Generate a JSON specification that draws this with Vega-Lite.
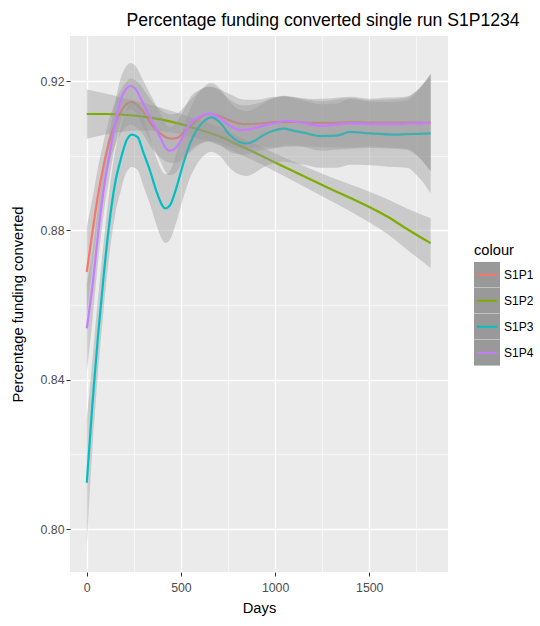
{
"$schema": "https://vega.github.io/schema/vega-lite/v6.json",
"width": 378, "height": 536,
"autosize": {"type": "none"},
"padding": {"left": 70, "top": 36, "right": 92, "bottom": 54},
"background": "white",
"title": {"text": "Percentage funding converted single run S1P1234", "font": "Liberation Sans", "fontSize": 17.6, "fontWeight": "normal", "color": "black", "anchor": "middle", "dx": 64, "dy": 20, "offset": 12, "baseline": "alphabetic"},
"config": {
  "view": {"fill": "#EBEBEB", "stroke": null},
  "font": "Liberation Sans",
  "axis": {"domain": false, "gridColor": "white", "tickSize": 4, "tickWidth": 1, "labelFont": "Liberation Sans", "labelFontSize": 12.3, "labelColor": "#4D4D4D", "labelPadding": 2, "titleFont": "Liberation Sans", "titleFontSize": 14.7, "titleColor": "black", "titleFontWeight": "normal"},
  "axisX": {"titlePadding": 7, "labelPadding": 5},
  "axisY": {"titlePadding": 15},
  "legend": {"padding": 0, "rowPadding": 0, "clipHeight": 26, "titleFont": "Liberation Sans", "titleFontSize": 14.7, "titleFontWeight": "normal", "titleColor": "black", "titlePadding": 4, "labelFont": "Liberation Sans", "labelFontSize": 12, "labelColor": "black", "labelOffset": 4, "symbolSize": 576, "symbolStrokeWidth": 2}
},
"datasets": {"d": [
{"s":"S1P1","d":0,"y":0.8689,"lo":0.8569,"hi":0.8809},
{"s":"S1P1","d":30,"y":0.8795,"lo":0.8705,"hi":0.8885},
{"s":"S1P1","d":60,"y":0.8895,"lo":0.8820,"hi":0.8970},
{"s":"S1P1","d":90,"y":0.8975,"lo":0.8910,"hi":0.9040},
{"s":"S1P1","d":120,"y":0.9040,"lo":0.8980,"hi":0.9100},
{"s":"S1P1","d":150,"y":0.9085,"lo":0.9027,"hi":0.9143},
{"s":"S1P1","d":180,"y":0.9118,"lo":0.9060,"hi":0.9176},
{"s":"S1P1","d":210,"y":0.9138,"lo":0.9078,"hi":0.9198},
{"s":"S1P1","d":235,"y":0.9145,"lo":0.9083,"hi":0.9207},
{"s":"S1P1","d":260,"y":0.9140,"lo":0.9078,"hi":0.9202},
{"s":"S1P1","d":290,"y":0.9125,"lo":0.9063,"hi":0.9187},
{"s":"S1P1","d":320,"y":0.9102,"lo":0.9040,"hi":0.9164},
{"s":"S1P1","d":350,"y":0.9080,"lo":0.9017,"hi":0.9143},
{"s":"S1P1","d":390,"y":0.9060,"lo":0.8996,"hi":0.9124},
{"s":"S1P1","d":420,"y":0.9050,"lo":0.8985,"hi":0.9115},
{"s":"S1P1","d":450,"y":0.9046,"lo":0.8981,"hi":0.9111},
{"s":"S1P1","d":480,"y":0.9048,"lo":0.8982,"hi":0.9114},
{"s":"S1P1","d":520,"y":0.9065,"lo":0.8997,"hi":0.9133},
{"s":"S1P1","d":560,"y":0.9085,"lo":0.9015,"hi":0.9155},
{"s":"S1P1","d":600,"y":0.9102,"lo":0.9030,"hi":0.9174},
{"s":"S1P1","d":650,"y":0.9112,"lo":0.9039,"hi":0.9185},
{"s":"S1P1","d":700,"y":0.9108,"lo":0.9036,"hi":0.9180},
{"s":"S1P1","d":760,"y":0.9095,"lo":0.9025,"hi":0.9165},
{"s":"S1P1","d":830,"y":0.9085,"lo":0.9019,"hi":0.9151},
{"s":"S1P1","d":900,"y":0.9086,"lo":0.9022,"hi":0.9150},
{"s":"S1P1","d":1000,"y":0.9090,"lo":0.9022,"hi":0.9158},
{"s":"S1P1","d":1100,"y":0.9091,"lo":0.9025,"hi":0.9157},
{"s":"S1P1","d":1200,"y":0.9088,"lo":0.9024,"hi":0.9152},
{"s":"S1P1","d":1300,"y":0.9088,"lo":0.9022,"hi":0.9154},
{"s":"S1P1","d":1400,"y":0.9090,"lo":0.9022,"hi":0.9158},
{"s":"S1P1","d":1500,"y":0.9089,"lo":0.9025,"hi":0.9153},
{"s":"S1P1","d":1600,"y":0.9089,"lo":0.9022,"hi":0.9156},
{"s":"S1P1","d":1700,"y":0.9089,"lo":0.9019,"hi":0.9159},
{"s":"S1P1","d":1760,"y":0.9089,"lo":0.8999,"hi":0.9179},
{"s":"S1P1","d":1826,"y":0.9089,"lo":0.8959,"hi":0.9219},
{"s":"S1P2","d":0,"y":0.9112,"lo":0.9046,"hi":0.9178},
{"s":"S1P2","d":100,"y":0.9112,"lo":0.9057,"hi":0.9167},
{"s":"S1P2","d":200,"y":0.9110,"lo":0.9065,"hi":0.9155},
{"s":"S1P2","d":300,"y":0.9105,"lo":0.9068,"hi":0.9142},
{"s":"S1P2","d":400,"y":0.9097,"lo":0.9066,"hi":0.9128},
{"s":"S1P2","d":500,"y":0.9085,"lo":0.9058,"hi":0.9112},
{"s":"S1P2","d":600,"y":0.9070,"lo":0.9045,"hi":0.9095},
{"s":"S1P2","d":700,"y":0.9053,"lo":0.9029,"hi":0.9077},
{"s":"S1P2","d":800,"y":0.9030,"lo":0.9007,"hi":0.9053},
{"s":"S1P2","d":900,"y":0.9007,"lo":0.8984,"hi":0.9030},
{"s":"S1P2","d":1000,"y":0.8982,"lo":0.8958,"hi":0.9006},
{"s":"S1P2","d":1100,"y":0.8958,"lo":0.8932,"hi":0.8984},
{"s":"S1P2","d":1200,"y":0.8934,"lo":0.8905,"hi":0.8963},
{"s":"S1P2","d":1300,"y":0.8910,"lo":0.8878,"hi":0.8942},
{"s":"S1P2","d":1400,"y":0.8887,"lo":0.8851,"hi":0.8923},
{"s":"S1P2","d":1500,"y":0.8863,"lo":0.8822,"hi":0.8904},
{"s":"S1P2","d":1600,"y":0.8836,"lo":0.8789,"hi":0.8883},
{"s":"S1P2","d":1700,"y":0.8804,"lo":0.8749,"hi":0.8859},
{"s":"S1P2","d":1826,"y":0.8766,"lo":0.8699,"hi":0.8833},
{"s":"S1P3","d":0,"y":0.8124,"lo":0.7954,"hi":0.8294},
{"s":"S1P3","d":30,"y":0.8335,"lo":0.8215,"hi":0.8455},
{"s":"S1P3","d":60,"y":0.8520,"lo":0.8420,"hi":0.8620},
{"s":"S1P3","d":90,"y":0.8680,"lo":0.8590,"hi":0.8770},
{"s":"S1P3","d":120,"y":0.8820,"lo":0.8735,"hi":0.8905},
{"s":"S1P3","d":150,"y":0.8925,"lo":0.8840,"hi":0.9010},
{"s":"S1P3","d":180,"y":0.8990,"lo":0.8905,"hi":0.9075},
{"s":"S1P3","d":210,"y":0.9040,"lo":0.8955,"hi":0.9125},
{"s":"S1P3","d":239,"y":0.9057,"lo":0.8970,"hi":0.9144},
{"s":"S1P3","d":270,"y":0.9050,"lo":0.8962,"hi":0.9138},
{"s":"S1P3","d":300,"y":0.9010,"lo":0.8920,"hi":0.9100},
{"s":"S1P3","d":336,"y":0.8960,"lo":0.8870,"hi":0.9050},
{"s":"S1P3","d":370,"y":0.8905,"lo":0.8815,"hi":0.8995},
{"s":"S1P3","d":400,"y":0.8868,"lo":0.8776,"hi":0.8960},
{"s":"S1P3","d":416,"y":0.8859,"lo":0.8767,"hi":0.8951},
{"s":"S1P3","d":440,"y":0.8866,"lo":0.8774,"hi":0.8958},
{"s":"S1P3","d":470,"y":0.8905,"lo":0.8813,"hi":0.8997},
{"s":"S1P3","d":513,"y":0.8980,"lo":0.8888,"hi":0.9072},
{"s":"S1P3","d":550,"y":0.9035,"lo":0.8943,"hi":0.9127},
{"s":"S1P3","d":584,"y":0.9069,"lo":0.8977,"hi":0.9161},
{"s":"S1P3","d":620,"y":0.9092,"lo":0.9000,"hi":0.9184},
{"s":"S1P3","d":663,"y":0.9103,"lo":0.9011,"hi":0.9195},
{"s":"S1P3","d":710,"y":0.9088,"lo":0.8998,"hi":0.9178},
{"s":"S1P3","d":761,"y":0.9055,"lo":0.8967,"hi":0.9143},
{"s":"S1P3","d":810,"y":0.9037,"lo":0.8950,"hi":0.9124},
{"s":"S1P3","d":849,"y":0.9033,"lo":0.8946,"hi":0.9120},
{"s":"S1P3","d":890,"y":0.9040,"lo":0.8954,"hi":0.9126},
{"s":"S1P3","d":937,"y":0.9055,"lo":0.8969,"hi":0.9141},
{"s":"S1P3","d":990,"y":0.9067,"lo":0.8980,"hi":0.9154},
{"s":"S1P3","d":1044,"y":0.9073,"lo":0.8985,"hi":0.9161},
{"s":"S1P3","d":1100,"y":0.9067,"lo":0.8980,"hi":0.9154},
{"s":"S1P3","d":1150,"y":0.9062,"lo":0.8976,"hi":0.9148},
{"s":"S1P3","d":1238,"y":0.9053,"lo":0.8968,"hi":0.9138},
{"s":"S1P3","d":1327,"y":0.9054,"lo":0.8968,"hi":0.9140},
{"s":"S1P3","d":1398,"y":0.9064,"lo":0.8976,"hi":0.9152},
{"s":"S1P3","d":1504,"y":0.9060,"lo":0.8975,"hi":0.9145},
{"s":"S1P3","d":1628,"y":0.9057,"lo":0.8970,"hi":0.9144},
{"s":"S1P3","d":1700,"y":0.9058,"lo":0.8968,"hi":0.9148},
{"s":"S1P3","d":1760,"y":0.9059,"lo":0.8944,"hi":0.9174},
{"s":"S1P3","d":1826,"y":0.9060,"lo":0.8900,"hi":0.9220},
{"s":"S1P4","d":0,"y":0.8538,"lo":0.8418,"hi":0.8658},
{"s":"S1P4","d":30,"y":0.8650,"lo":0.8560,"hi":0.8740},
{"s":"S1P4","d":60,"y":0.8790,"lo":0.8715,"hi":0.8865},
{"s":"S1P4","d":90,"y":0.8910,"lo":0.8845,"hi":0.8975},
{"s":"S1P4","d":120,"y":0.9000,"lo":0.8940,"hi":0.9060},
{"s":"S1P4","d":150,"y":0.9085,"lo":0.9027,"hi":0.9143},
{"s":"S1P4","d":180,"y":0.9150,"lo":0.9092,"hi":0.9208},
{"s":"S1P4","d":210,"y":0.9180,"lo":0.9120,"hi":0.9240},
{"s":"S1P4","d":233,"y":0.9187,"lo":0.9125,"hi":0.9249},
{"s":"S1P4","d":260,"y":0.9178,"lo":0.9116,"hi":0.9240},
{"s":"S1P4","d":290,"y":0.9150,"lo":0.9088,"hi":0.9212},
{"s":"S1P4","d":320,"y":0.9120,"lo":0.9058,"hi":0.9182},
{"s":"S1P4","d":350,"y":0.9090,"lo":0.9027,"hi":0.9153},
{"s":"S1P4","d":390,"y":0.9050,"lo":0.8986,"hi":0.9114},
{"s":"S1P4","d":420,"y":0.9020,"lo":0.8955,"hi":0.9085},
{"s":"S1P4","d":440,"y":0.9013,"lo":0.8948,"hi":0.9078},
{"s":"S1P4","d":470,"y":0.9020,"lo":0.8954,"hi":0.9086},
{"s":"S1P4","d":510,"y":0.9050,"lo":0.8982,"hi":0.9118},
{"s":"S1P4","d":550,"y":0.9087,"lo":0.9017,"hi":0.9157},
{"s":"S1P4","d":600,"y":0.9105,"lo":0.9033,"hi":0.9177},
{"s":"S1P4","d":654,"y":0.9113,"lo":0.9040,"hi":0.9186},
{"s":"S1P4","d":710,"y":0.9100,"lo":0.9028,"hi":0.9172},
{"s":"S1P4","d":760,"y":0.9080,"lo":0.9010,"hi":0.9150},
{"s":"S1P4","d":830,"y":0.9069,"lo":0.9003,"hi":0.9135},
{"s":"S1P4","d":920,"y":0.9078,"lo":0.9014,"hi":0.9142},
{"s":"S1P4","d":1000,"y":0.9088,"lo":0.9020,"hi":0.9156},
{"s":"S1P4","d":1060,"y":0.9094,"lo":0.9028,"hi":0.9160},
{"s":"S1P4","d":1130,"y":0.9090,"lo":0.9026,"hi":0.9154},
{"s":"S1P4","d":1240,"y":0.9080,"lo":0.9014,"hi":0.9146},
{"s":"S1P4","d":1400,"y":0.9087,"lo":0.9019,"hi":0.9155},
{"s":"S1P4","d":1500,"y":0.9085,"lo":0.9021,"hi":0.9149},
{"s":"S1P4","d":1650,"y":0.9085,"lo":0.9018,"hi":0.9152},
{"s":"S1P4","d":1700,"y":0.9086,"lo":0.9016,"hi":0.9156},
{"s":"S1P4","d":1760,"y":0.9087,"lo":0.8997,"hi":0.9177},
{"s":"S1P4","d":1826,"y":0.9088,"lo":0.8958,"hi":0.9218}
]},
"data": {"name": "d"},
"encoding": {
  "x": {"field": "d", "type": "quantitative", "title": "Days", "scale": {"domain": [-89, 1918], "nice": false, "zero": false},
    "axis": {"values": [0, 250, 500, 750, 1000, 1250, 1500, 1750], "format": "d", "labelExpr": "datum.value % 500 === 0 ? datum.label : ''", "gridWidth": {"condition": {"test": "datum.value % 500 === 0", "value": 1.3}, "value": 0.6}, "tickColor": {"condition": {"test": "datum.value % 500 === 0", "value": "#333333"}, "value": "transparent"}}}
},
"layer": [
{"transform": [{"filter": "datum.s === 'S1P1'"}], "mark": {"type": "area", "opacity": 0.4, "interpolate": "monotone"},
 "encoding": {"y": {"field": "lo", "type": "quantitative", "title": "Percentage funding converted", "scale": {"domain": [0.7885, 0.9321], "nice": false, "zero": false}, "axis": {"values": [0.8, 0.82, 0.84, 0.86, 0.88, 0.9, 0.92], "labelExpr": "round(datum.value*100) % 4 === 0 ? format(datum.value, '.2f') : ''", "gridWidth": {"condition": {"test": "round(datum.value*100) % 4 === 0", "value": 1.3}, "value": 0.6}, "tickColor": {"condition": {"test": "round(datum.value*100) % 4 === 0", "value": "#333333"}, "value": "transparent"}}}, "y2": {"field": "hi"},
  "fill": {"field": "s", "type": "nominal", "scale": {"domain": ["S1P1", "S1P2", "S1P3", "S1P4"], "range": ["#999999", "#999999", "#999999", "#999999"]}, "legend": {"title": "colour", "orient": "none", "legendX": 404, "legendY": 207, "symbolType": "square", "symbolStrokeColor": "#999999", "symbolOpacity": 1, "titleOpacity": 0, "labelOpacity": 0, "zindex": 1}}}},
{"transform": [{"filter": "datum.s === 'S1P1'"}], "mark": {"type": "line", "strokeWidth": 2.2, "interpolate": "monotone"},
 "encoding": {"y": {"field": "y", "type": "quantitative", "title": "Percentage funding converted", "scale": {"domain": [0.7885, 0.9321], "nice": false, "zero": false}, "axis": {"values": [0.8, 0.82, 0.84, 0.86, 0.88, 0.9, 0.92], "labelExpr": "round(datum.value*100) % 4 === 0 ? format(datum.value, '.2f') : ''", "gridWidth": {"condition": {"test": "round(datum.value*100) % 4 === 0", "value": 1.3}, "value": 0.6}, "tickColor": {"condition": {"test": "round(datum.value*100) % 4 === 0", "value": "#333333"}, "value": "transparent"}}},
  "stroke": {"field": "s", "type": "nominal", "scale": {"range": ["#F8766D", "#7CAE00", "#00BFC4", "#C77CFF"]}, "legend": {"title": "colour", "orient": "none", "legendX": 404, "legendY": 207, "symbolType": "M-0.85,0H0.85", "zindex": 2}}}},
{"transform": [{"filter": "datum.s === 'S1P2'"}], "mark": {"type": "area", "opacity": 0.4, "interpolate": "monotone"},
 "encoding": {"y": {"field": "lo", "type": "quantitative", "title": "Percentage funding converted", "scale": {"domain": [0.7885, 0.9321], "nice": false, "zero": false}, "axis": {"values": [0.8, 0.82, 0.84, 0.86, 0.88, 0.9, 0.92], "labelExpr": "round(datum.value*100) % 4 === 0 ? format(datum.value, '.2f') : ''", "gridWidth": {"condition": {"test": "round(datum.value*100) % 4 === 0", "value": 1.3}, "value": 0.6}, "tickColor": {"condition": {"test": "round(datum.value*100) % 4 === 0", "value": "#333333"}, "value": "transparent"}}}, "y2": {"field": "hi"},
  "fill": {"field": "s", "type": "nominal", "scale": {"domain": ["S1P1", "S1P2", "S1P3", "S1P4"], "range": ["#999999", "#999999", "#999999", "#999999"]}, "legend": {"title": "colour", "orient": "none", "legendX": 404, "legendY": 207, "symbolType": "square", "symbolStrokeColor": "#999999", "symbolOpacity": 1, "titleOpacity": 0, "labelOpacity": 0, "zindex": 1}}}},
{"transform": [{"filter": "datum.s === 'S1P2'"}], "mark": {"type": "line", "strokeWidth": 2.2, "interpolate": "monotone"},
 "encoding": {"y": {"field": "y", "type": "quantitative", "title": "Percentage funding converted", "scale": {"domain": [0.7885, 0.9321], "nice": false, "zero": false}, "axis": {"values": [0.8, 0.82, 0.84, 0.86, 0.88, 0.9, 0.92], "labelExpr": "round(datum.value*100) % 4 === 0 ? format(datum.value, '.2f') : ''", "gridWidth": {"condition": {"test": "round(datum.value*100) % 4 === 0", "value": 1.3}, "value": 0.6}, "tickColor": {"condition": {"test": "round(datum.value*100) % 4 === 0", "value": "#333333"}, "value": "transparent"}}},
  "stroke": {"field": "s", "type": "nominal", "scale": {"range": ["#F8766D", "#7CAE00", "#00BFC4", "#C77CFF"]}, "legend": {"title": "colour", "orient": "none", "legendX": 404, "legendY": 207, "symbolType": "M-0.85,0H0.85", "zindex": 2}}}},
{"transform": [{"filter": "datum.s === 'S1P3'"}], "mark": {"type": "area", "opacity": 0.4, "interpolate": "monotone"},
 "encoding": {"y": {"field": "lo", "type": "quantitative", "title": "Percentage funding converted", "scale": {"domain": [0.7885, 0.9321], "nice": false, "zero": false}, "axis": {"values": [0.8, 0.82, 0.84, 0.86, 0.88, 0.9, 0.92], "labelExpr": "round(datum.value*100) % 4 === 0 ? format(datum.value, '.2f') : ''", "gridWidth": {"condition": {"test": "round(datum.value*100) % 4 === 0", "value": 1.3}, "value": 0.6}, "tickColor": {"condition": {"test": "round(datum.value*100) % 4 === 0", "value": "#333333"}, "value": "transparent"}}}, "y2": {"field": "hi"},
  "fill": {"field": "s", "type": "nominal", "scale": {"domain": ["S1P1", "S1P2", "S1P3", "S1P4"], "range": ["#999999", "#999999", "#999999", "#999999"]}, "legend": {"title": "colour", "orient": "none", "legendX": 404, "legendY": 207, "symbolType": "square", "symbolStrokeColor": "#999999", "symbolOpacity": 1, "titleOpacity": 0, "labelOpacity": 0, "zindex": 1}}}},
{"transform": [{"filter": "datum.s === 'S1P3'"}], "mark": {"type": "line", "strokeWidth": 2.2, "interpolate": "monotone"},
 "encoding": {"y": {"field": "y", "type": "quantitative", "title": "Percentage funding converted", "scale": {"domain": [0.7885, 0.9321], "nice": false, "zero": false}, "axis": {"values": [0.8, 0.82, 0.84, 0.86, 0.88, 0.9, 0.92], "labelExpr": "round(datum.value*100) % 4 === 0 ? format(datum.value, '.2f') : ''", "gridWidth": {"condition": {"test": "round(datum.value*100) % 4 === 0", "value": 1.3}, "value": 0.6}, "tickColor": {"condition": {"test": "round(datum.value*100) % 4 === 0", "value": "#333333"}, "value": "transparent"}}},
  "stroke": {"field": "s", "type": "nominal", "scale": {"range": ["#F8766D", "#7CAE00", "#00BFC4", "#C77CFF"]}, "legend": {"title": "colour", "orient": "none", "legendX": 404, "legendY": 207, "symbolType": "M-0.85,0H0.85", "zindex": 2}}}},
{"transform": [{"filter": "datum.s === 'S1P4'"}], "mark": {"type": "area", "opacity": 0.4, "interpolate": "monotone"},
 "encoding": {"y": {"field": "lo", "type": "quantitative", "title": "Percentage funding converted", "scale": {"domain": [0.7885, 0.9321], "nice": false, "zero": false}, "axis": {"values": [0.8, 0.82, 0.84, 0.86, 0.88, 0.9, 0.92], "labelExpr": "round(datum.value*100) % 4 === 0 ? format(datum.value, '.2f') : ''", "gridWidth": {"condition": {"test": "round(datum.value*100) % 4 === 0", "value": 1.3}, "value": 0.6}, "tickColor": {"condition": {"test": "round(datum.value*100) % 4 === 0", "value": "#333333"}, "value": "transparent"}}}, "y2": {"field": "hi"},
  "fill": {"field": "s", "type": "nominal", "scale": {"domain": ["S1P1", "S1P2", "S1P3", "S1P4"], "range": ["#999999", "#999999", "#999999", "#999999"]}, "legend": {"title": "colour", "orient": "none", "legendX": 404, "legendY": 207, "symbolType": "square", "symbolStrokeColor": "#999999", "symbolOpacity": 1, "titleOpacity": 0, "labelOpacity": 0, "zindex": 1}}}},
{"transform": [{"filter": "datum.s === 'S1P4'"}], "mark": {"type": "line", "strokeWidth": 2.2, "interpolate": "monotone"},
 "encoding": {"y": {"field": "y", "type": "quantitative", "title": "Percentage funding converted", "scale": {"domain": [0.7885, 0.9321], "nice": false, "zero": false}, "axis": {"values": [0.8, 0.82, 0.84, 0.86, 0.88, 0.9, 0.92], "labelExpr": "round(datum.value*100) % 4 === 0 ? format(datum.value, '.2f') : ''", "gridWidth": {"condition": {"test": "round(datum.value*100) % 4 === 0", "value": 1.3}, "value": 0.6}, "tickColor": {"condition": {"test": "round(datum.value*100) % 4 === 0", "value": "#333333"}, "value": "transparent"}}},
  "stroke": {"field": "s", "type": "nominal", "scale": {"range": ["#F8766D", "#7CAE00", "#00BFC4", "#C77CFF"]}, "legend": {"title": "colour", "orient": "none", "legendX": 404, "legendY": 207, "symbolType": "M-0.85,0H0.85", "zindex": 2}}}}
]
}
